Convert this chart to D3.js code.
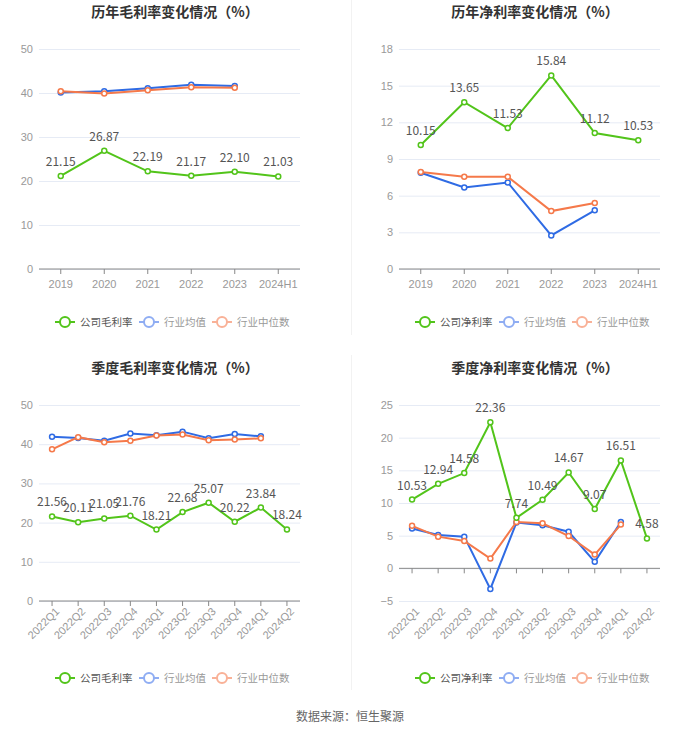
<!DOCTYPE html>
<html>
<head>
<meta charset="utf-8">
<script src="https://cdn.jsdelivr.net/npm/d3@7.9.0/dist/d3.min.js"></script>
<style>
  body { margin: 0; background: #fff; }
  svg { font-family: "Noto Sans CJK SC", "Noto Sans", sans-serif; }
</style>
</head>
<body>
<svg id="chart" width="700" height="734"></svg>
<script>
// yearly categories
const years = ["2019", "2020", "2021", "2022", "2023", "2024H1"];
const quarters = ["2022Q1", "2022Q2", "2022Q3", "2022Q4", "2023Q1", "2023Q2", "2023Q3", "2023Q4", "2024Q1", "2024Q2"];

// yearly gross margin
const grossYear = [21.15, 26.87, 22.19, 21.17, 22.10, 21.03];
const grossYearAvg = [40.1, 40.4, 41.1, 41.9, 41.6];
const grossYearMed = [40.4, 39.9, 40.6, 41.3, 41.2];

// yearly net margin
const netYear = [10.15, 13.65, 11.53, 15.84, 11.12, 10.53];
const netYearAvg = [7.87, 6.67, 7.08, 2.75, 4.8];
const netYearMed = [7.93, 7.55, 7.55, 4.74, 5.4];

// quarterly gross margin
const grossQ = [21.56, 20.11, 21.05, 21.76, 18.21, 22.68, 25.07, 20.22, 23.84, 18.24];
const grossQAvg = [41.9, 41.6, 40.9, 42.7, 42.3, 43.2, 41.5, 42.6, 42.0];
const grossQMed = [38.7, 41.8, 40.5, 40.9, 42.2, 42.5, 41.0, 41.2, 41.5];

// quarterly net margin
const netQ = [10.53, 12.94, 14.58, 22.36, 7.74, 10.49, 14.67, 9.07, 16.51, 4.58];
const netQAvg = [6.1, 5.1, 4.85, -3.16, 7.0, 6.6, 5.6, 1.0, 7.1];
const netQMed = [6.5, 4.85, 4.2, 1.5, 7.1, 6.9, 4.95, 2.1, 6.7];

const green = "#52c41a", blue = "#2f6be4", orange = "#f5794a";
const blueLight = "#8fadf3", orangeLight = "#f9b197";

const svg = d3.select("#chart");

// faint panel dividers
svg.append("line").attr("x1", 351.5).attr("x2", 351.5).attr("y1", 0).attr("y2", 335)
  .attr("stroke", "#f2f2f2");
svg.append("line").attr("x1", 351.5).attr("x2", 351.5).attr("y1", 355).attr("y2", 690)
  .attr("stroke", "#f2f2f2");

function drawPanel(cfg) {
  const g = svg.append("g");
  const x = d3.scaleBand().domain(cfg.cats).range([cfg.left, cfg.left + 261]);
  const y = d3.scaleLinear().domain(cfg.domain).range([cfg.bottom, cfg.top]);
  const cx = d => x(d) + x.bandwidth() / 2;

  // title
  g.append("text")
    .attr("x", cfg.left + 136).attr("y", cfg.titleY)
    .attr("text-anchor", "middle")
    .attr("font-size", 14).attr("font-weight", "bold").attr("fill", "#333")
    .text(cfg.title);

  // grid + y labels
  const yAxis = g.append("g")
    .attr("transform", `translate(${cfg.left},0)`)
    .call(d3.axisLeft(y).tickValues(cfg.ticks).tickSize(-261).tickPadding(6));
  yAxis.select(".domain").remove();
  yAxis.selectAll(".tick line").attr("stroke", "#e6ebf5");
  yAxis.selectAll(".tick text").attr("fill", "#999").attr("font-size", 11)
    .attr("font-family", "inherit");

  // x axis at zero
  const xAxis = g.append("g")
    .attr("transform", `translate(0,${y(0)})`)
    .call(d3.axisBottom(x).tickSize(5).tickPadding(6));
  xAxis.select(".domain").attr("stroke", "#888").attr("d", `M${cfg.left},0H${cfg.left + 261}`);
  xAxis.selectAll(".tick line").attr("stroke", "#888");
  xAxis.selectAll(".tick text").attr("fill", "#999").attr("font-size", 11)
    .attr("font-family", "inherit");
  if (cfg.rotate) {
    xAxis.selectAll(".tick text")
      .attr("text-anchor", "end")
      .attr("transform", `translate(0,${y.range()[0] - y(0)}) rotate(-45)`)
      .attr("dx", "-0.2em").attr("dy", "0.5em").attr("y", 8);
  } else {
    xAxis.selectAll(".tick text").attr("transform", `translate(0,${y.range()[0] - y(0)})`);
  }

  const line = d3.line().x((d, i) => cx(cfg.cats[i])).y(d => y(d));

  function series(vals, color) {
    g.append("path").datum(vals)
      .attr("d", line).attr("fill", "none")
      .attr("stroke", color).attr("stroke-width", 2);
    g.selectAll(null).data(vals).join("circle")
      .attr("cx", (d, i) => cx(cfg.cats[i])).attr("cy", d => y(d))
      .attr("r", 2.5).attr("fill", "#fff")
      .attr("stroke", color).attr("stroke-width", 1.5);
  }
  series(cfg.avg, blue);
  series(cfg.med, orange);
  series(cfg.main, green);

  g.selectAll(null).data(cfg.main).join("text")
    .attr("x", (d, i) => cx(cfg.cats[i])).attr("y", d => y(d) - 10)
    .attr("text-anchor", "middle").attr("font-size", 12).attr("fill", "#555")
    .text(d => d.toFixed(2));

  // legend
  const items = [
    { name: cfg.name, color: green, text: "#555" },
    { name: "行业均值", color: blueLight, text: "#999" },
    { name: "行业中位数", color: orangeLight, text: "#999" }
  ];
  const offs = [0, 84, 157];
  items.forEach((it, i) => {
    const lx = cfg.left + cfg.legendX + offs[i];
    const lg = g.append("g").attr("transform", `translate(${lx},${cfg.legendY})`);
    lg.append("line").attr("x1", 0).attr("x2", 20).attr("stroke", it.color).attr("stroke-width", 2);
    lg.append("circle").attr("cx", 10).attr("r", 5).attr("fill", "#fff")
      .attr("stroke", it.color).attr("stroke-width", 2);
    lg.append("text").attr("x", 25).attr("dy", "0.35em")
      .attr("font-size", 10.5).attr("fill", it.text).text(it.name);
  });
}

const legendShift = 16;
drawPanel({
  title: "历年毛利率变化情况（%）", name: "公司毛利率",
  cats: years, main: grossYear, avg: grossYearAvg, med: grossYearMed,
  domain: [0, 50], ticks: [0, 10, 20, 30, 40, 50],
  left: 39, top: 49, bottom: 269, titleY: 17, legendY: 322, legendX: legendShift
});
drawPanel({
  title: "历年净利率变化情况（%）", name: "公司净利率",
  cats: years, main: netYear, avg: netYearAvg, med: netYearMed,
  domain: [0, 18], ticks: [0, 3, 6, 9, 12, 15, 18],
  left: 399, top: 49, bottom: 269, titleY: 17, legendY: 322, legendX: legendShift
});
drawPanel({
  title: "季度毛利率变化情况（%）", name: "公司毛利率",
  cats: quarters, main: grossQ, avg: grossQAvg, med: grossQMed,
  domain: [0, 50], ticks: [0, 10, 20, 30, 40, 50], rotate: true,
  left: 39, top: 405, bottom: 601, titleY: 373, legendY: 678, legendX: legendShift
});
drawPanel({
  title: "季度净利率变化情况（%）", name: "公司净利率",
  cats: quarters, main: netQ, avg: netQAvg, med: netQMed,
  domain: [-5, 25], ticks: [-5, 0, 5, 10, 15, 20, 25], rotate: true,
  left: 399, top: 405, bottom: 601, titleY: 373, legendY: 678, legendX: legendShift
});

svg.append("text").attr("x", 350).attr("y", 721).attr("text-anchor", "middle")
  .attr("font-size", 12).attr("fill", "#666").text("数据来源：恒生聚源");
</script>
</body>
</html>
